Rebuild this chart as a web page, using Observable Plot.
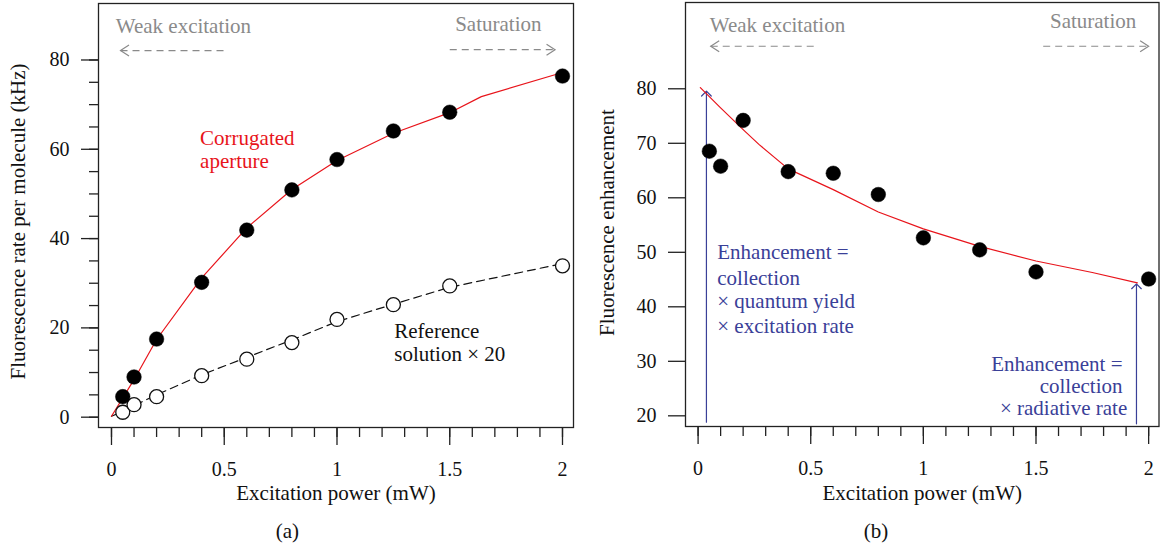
<!DOCTYPE html>
<html><head><meta charset="utf-8">
<script src="https://cdn.jsdelivr.net/npm/d3@7"></script>
<script src="https://cdn.jsdelivr.net/npm/@observablehq/plot@0.6"></script>
<style>
body{margin:0;background:#fff}
#wrap{display:flex;width:1160px;height:556px;overflow:hidden}
#wrap svg{display:block}
#wrap svg text{font-family:'Liberation Serif','Times New Roman',serif}
</style>
</head><body><div id="wrap"><div id="a"></div><div id="b"></div></div>
<script>
// ---- data ----
const power = [0.05, 0.1, 0.2, 0.4, 0.6, 0.8, 1.0, 1.25, 1.5, 2.0];
const corrugatedRate = [4.6, 9.0, 17.5, 30.2, 41.9, 50.9, 57.7, 64.1, 68.3, 76.4];
const referenceRate = [1.1, 2.8, 4.6, 9.3, 13.0, 16.7, 21.9, 25.2, 29.4, 33.9];
const fitCorrX = [0, 0.1, 0.2, 0.4, 0.6, 0.8, 1.0, 1.25, 1.5, 1.64, 2.0];
const fitCorrY = [0.2, 8.4, 17.4, 31.2, 42.4, 51.0, 57.5, 63.6, 68.2, 71.8, 77.2];
const fitRefX = [0, 0.05, 0.1, 0.2, 0.4, 0.6, 0.8, 1.0, 1.25, 1.5, 2.0];
const fitRefY = [0.2, 1.3, 2.6, 5.0, 9.5, 13.4, 17.3, 21.4, 25.3, 29.1, 34.4];
const enhancement = [68.55, 65.8, 74.2, 64.8, 64.5, 60.6, 52.65, 50.45, 46.4, 45.1];
const fitEnhX = [0.01, 0.1, 0.2, 0.27, 0.4, 0.6, 0.8, 1.0, 1.25, 1.5, 1.75, 1.95];
const fitEnhY = [80.2, 76.5, 72.5, 69.8, 65.3, 61.5, 57.4, 54.3, 51.1, 48.4, 46.3, 44.4];

const xTicksMajor = [0, 0.5, 1, 1.5, 2];
const xTicksMinor = [0,0.1,0.2,0.3,0.4,0.5,0.6,0.7,0.8,0.9,1,1.1,1.2,1.3,1.4,1.5,1.6,1.7,1.8,1.9,2];
const yTicksA = [0, 20, 40, 60, 80];
const yTicksAMinor = [0,5,10,15,20,25,30,35,40,45,50,55,60,65,70,75,80];
const yTicksB = [20, 30, 40, 50, 60, 70, 80];

const xTitle = "Excitation power (mW)";
const yTitleA = "Fluorescence rate per molecule (kHz)";
const yTitleB = "Fluorescence enhancement";

// annotations (data coordinates)
const grayTextA = [
  {x: 0.019, y: 87.5, text: "Weak excitation"},
  {x: 1.524, y: 88.1, text: "Saturation"}
];
const grayArrowA = [
  {x1: 0.04, x2: 0.508, y: 82.1, dir: "left"},
  {x1: 1.5, x2: 1.967, y: 82.3, dir: "right"}
];
const redTextA = [
  {x: 0.393, y: 62.5, text: "Corrugated"},
  {x: 0.393, y: 57.3, text: "aperture"}
];
const blackTextA = [
  {x: 1.254, y: 19.2, text: "Reference"},
  {x: 1.254, y: 14.0, text: "solution × 20"}
];
const grayTextB = [
  {x: 0.052, y: 91.7, text: "Weak excitation"},
  {x: 1.562, y: 92.35, text: "Saturation"}
];
const grayArrowB = [
  {x1: 0.056, x2: 0.52, y: 87.8, dir: "left"},
  {x1: 1.532, x2: 2.0, y: 87.8, dir: "right"}
];
const blueTextLeftB = [
  {x: 0.085, y: 49.96, text: "Enhancement ="},
  {x: 0.085, y: 45.26, text: "collection"},
  {x: 0.085, y: 41.04, text: "× quantum yield"},
  {x: 0.085, y: 36.45, text: "× excitation rate"}
];
const blueTextRightB = [
  {x: 1.884, y: 29.48, text: "Enhancement ="},
  {x: 1.884, y: 25.38, text: "collection"},
  {x: 1.905, y: 21.4, text: "× radiative rate"}
];
const blueArrowsB = [
  {x: 0.037, y1: 18.83, y2: 79.56},
  {x: 1.946, y1: 18.53, y2: 44.2}
];

// ---- styles ----
const FONT = "'Liberation Serif', 'Times New Roman', serif";
const GRAY = "#8a8a8a";
const RED = "#e8141b";
const BLUE = "#3a4098";
const AXIS = "#222";

const chevronLeft = {draw(ctx) { ctx.moveTo(8.5, -5.5); ctx.lineTo(0, 0); ctx.lineTo(8.5, 5.5); }};
const chevronRight = {draw(ctx) { ctx.moveTo(-8.5, -5.5); ctx.lineTo(0, 0); ctx.lineTo(-8.5, 5.5); }};

function grayArrowMarks(arrows) {
  return [
    Plot.link(arrows, {x1: "x1", x2: "x2", y1: "y", y2: "y", stroke: GRAY, strokeWidth: 1.2, strokeDasharray: "7,5"}),
    Plot.dot(arrows.filter(d => d.dir === "left"), {x: "x1", y: "y", symbol: chevronLeft, fill: "none", stroke: GRAY, strokeWidth: 1.2}),
    Plot.dot(arrows.filter(d => d.dir === "right"), {x: "x2", y: "y", symbol: chevronRight, fill: "none", stroke: GRAY, strokeWidth: 1.2})
  ];
}

function xAxisMarks() {
  return [
    Plot.axisX(xTicksMinor, {tickSize: 10, tickFormat: () => "", label: null, stroke: AXIS, strokeWidth: 1.3}),
    Plot.axisX(xTicksMajor, {tickSize: 18, tickPadding: 16, tickFormat: d => String(d), label: null, stroke: AXIS, strokeWidth: 1.3, fontSize: 20, fill: "#111"})
  ];
}

// ---- panel (a) ----
const corr = power.map((p, i) => ({x: p, y: corrugatedRate[i]}));
const refs = power.map((p, i) => ({x: p, y: referenceRate[i]}));
const fitCorr = fitCorrX.map((p, i) => ({x: p, y: fitCorrY[i]}));
const fitRef = fitRefX.map((p, i) => ({x: p, y: fitRefY[i]}));

const plotA = Plot.plot({
  width: 580, height: 556,
  marginLeft: 98, marginRight: 7, marginTop: 3, marginBottom: 129,
  x: {domain: [-0.0576, 2.0488]},
  y: {domain: [-2.31, 92.65]},
  style: {fontFamily: FONT, fontSize: "20px", background: "white", color: "#111"},
  marks: [
    Plot.frame({stroke: AXIS, strokeWidth: 1.3}),
    Plot.axisY(yTicksAMinor, {tickSize: 9, tickFormat: () => "", label: null, stroke: AXIS, strokeWidth: 1.3}),
    Plot.axisY(yTicksA, {tickSize: 17, tickPadding: 12, label: null, stroke: AXIS, strokeWidth: 1.3, fontSize: 20, fill: "#111"}),
    ...xAxisMarks(),
    Plot.line(fitRef, {x: "x", y: "y", stroke: "#111", strokeWidth: 1.2, strokeDasharray: "8,5"}),
    Plot.line(fitCorr, {x: "x", y: "y", stroke: RED, strokeWidth: 1.2}),
    Plot.dot(refs, {x: "x", y: "y", r: 7, fill: "white", stroke: "#111", strokeWidth: 1.3}),
    Plot.dot(corr, {x: "x", y: "y", r: 7.3, fill: "#000", stroke: "#000", strokeWidth: 0.5}),
    ...grayArrowMarks(grayArrowA),
    Plot.text(grayTextA, {x: "x", y: "y", text: "text", textAnchor: "start", fill: GRAY, fontSize: 21}),
    Plot.text(redTextA, {x: "x", y: "y", text: "text", textAnchor: "start", fill: RED, fontSize: 21}),
    Plot.text(blackTextA, {x: "x", y: "y", text: "text", textAnchor: "start", fill: "#111", fontSize: 21}),
    Plot.text([xTitle], {frameAnchor: "bottom", dy: 72, fontSize: 21, fill: "#111"}),
    Plot.text([yTitleA], {frameAnchor: "left", textAnchor: "middle", dx: -80, dy: 6, rotate: -90, fontSize: 21, fill: "#111"}),
    Plot.text(["(a)"], {x: 0.78, frameAnchor: "bottom", dy: 110, fontSize: 21, fill: "#111"})
  ]
});
document.getElementById("a").append(plotA);

// ---- panel (b) ----
const enh = power.map((p, i) => ({x: p, y: enhancement[i]}));
const fitEnh = fitEnhX.map((p, i) => ({x: p, y: fitEnhY[i]}));

const plotB = Plot.plot({
  width: 580, height: 556,
  marginLeft: 105, marginRight: 1.5, marginTop: 2, marginBottom: 130,
  x: {domain: [-0.0559, 2.046]},
  y: {domain: [18.04, 95.83]},
  style: {fontFamily: FONT, fontSize: "20px", background: "white", color: "#111"},
  marks: [
    Plot.frame({stroke: AXIS, strokeWidth: 1.3}),
    Plot.axisY(yTicksB, {tickSize: 17, tickPadding: 12, label: null, stroke: AXIS, strokeWidth: 1.3, fontSize: 20, fill: "#111"}),
    ...xAxisMarks(),
    Plot.arrow(blueArrowsB, {x1: "x", x2: "x", y1: "y1", y2: "y2", stroke: BLUE, strokeWidth: 1.2, headAngle: 90, headLength: 8.5}),
    Plot.line(fitEnh, {x: "x", y: "y", stroke: RED, strokeWidth: 1.2}),
    Plot.dot(enh, {x: "x", y: "y", r: 7.3, fill: "#000", stroke: "#000", strokeWidth: 0.5}),
    ...grayArrowMarks(grayArrowB),
    Plot.text(grayTextB, {x: "x", y: "y", text: "text", textAnchor: "start", fill: GRAY, fontSize: 21}),
    Plot.text(blueTextLeftB, {x: "x", y: "y", text: "text", textAnchor: "start", fill: BLUE, fontSize: 21}),
    Plot.text(blueTextRightB, {x: "x", y: "y", text: "text", textAnchor: "end", fill: BLUE, fontSize: 21}),
    Plot.text([xTitle], {frameAnchor: "bottom", dy: 73, fontSize: 21, fill: "#111"}),
    Plot.text([yTitleB], {frameAnchor: "left", textAnchor: "middle", dx: -78, dy: 8, rotate: -90, fontSize: 21, fill: "#111"}),
    Plot.text(["(b)"], {x: 0.79, frameAnchor: "bottom", dy: 111, fontSize: 21, fill: "#111"})
  ]
});
document.getElementById("b").append(plotB);
</script>
</body></html>
